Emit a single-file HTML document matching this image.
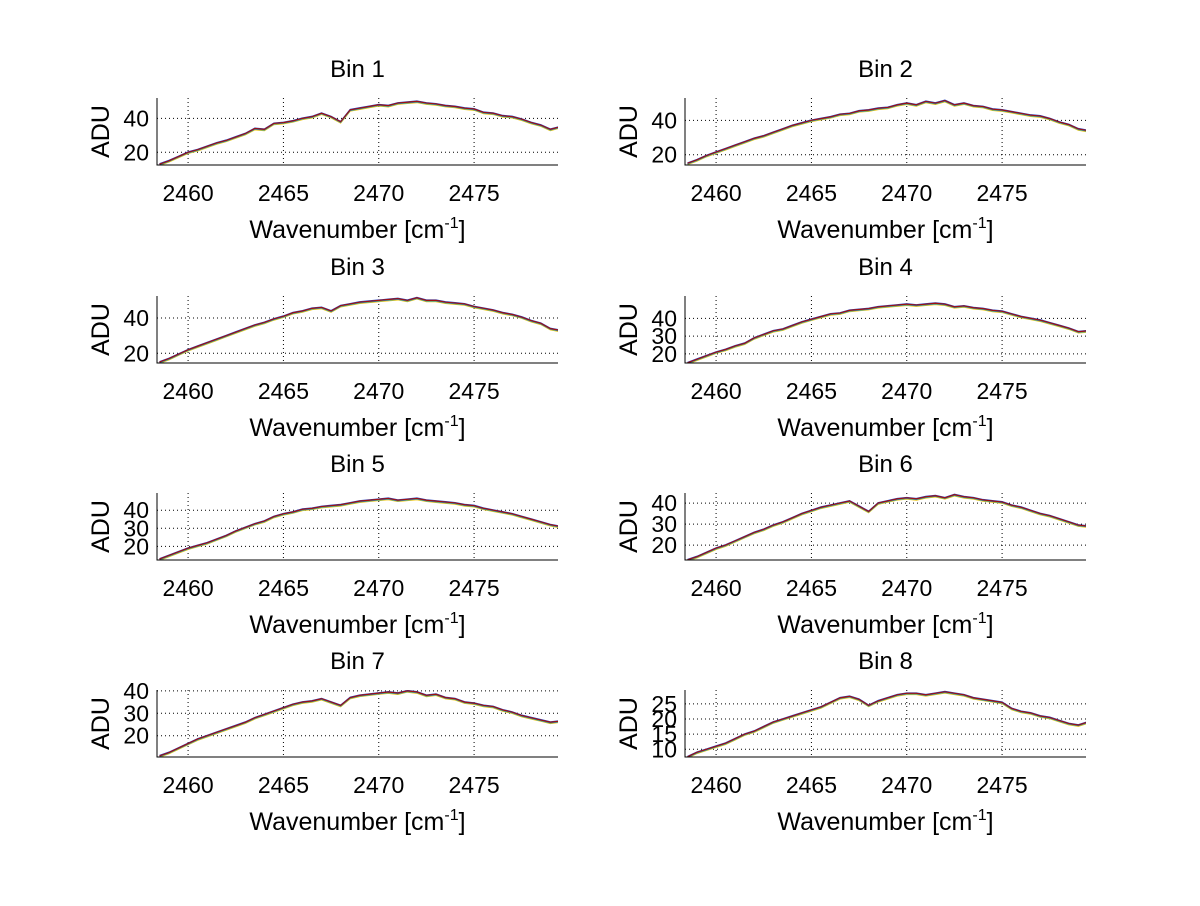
<!DOCTYPE html>
<html><head><meta charset="utf-8"><style>
html,body{margin:0;padding:0;background:#fff;}
svg text{font-family:"Liberation Sans",Arial,sans-serif;fill:#000;}
</style></head><body>
<svg id="fig" width="1200" height="901" viewBox="0 0 1200 901" xmlns="http://www.w3.org/2000/svg"></svg>
<script>
const xStart = 2458.5, xStep = 0.5;
const xTicks = [2460, 2465, 2470, 2475];
const binNames = ["Bin 1","Bin 2","Bin 3","Bin 4","Bin 5","Bin 6","Bin 7","Bin 8"];
const yLims = [[12.5,52],[14,53],[14.5,52.5],[14.9,52.6],[12.5,49.5],[12.9,44.8],[10.5,40.4],[7.45,29.6]];
const yTicks = [[20,40],[20,40],[20,40],[20,30,40],[20,30,40],[20,30,40],[20,30,40],[10,15,20,25]];
const bin1 = [13,15,17.5,20,21.5,23.5,25.5,27,29,31,34,33.5,37,37.5,38.5,40,41,43,41,38,45,46,47,48,47.5,49,49.5,50,49,48.5,47.5,47,46,45.5,43.5,43,41.5,41,39.5,37.5,36,33.5,35];
const bin2 = [15,17,19.5,21.5,23.5,25.5,27.5,29.5,31,33,35,37,38.5,40,41,42,43.5,44,45.5,46,47,47.5,49,50,49,51,50,51.5,49,50,48.5,48,46.5,46,45,44,43,42.5,41,39,37.5,35,34];
const bin3 = [15,17,19.5,22,24,26,28,30,32,34,36,37.5,39.5,41,43,44,45.5,46,44,47,48,49,49.5,50,50.5,51,50,51.5,50,50,49,48.5,48,46.5,45.5,44.5,43,42,40.5,38.5,37,34,33];
const bin4 = [15,17,19,21,22.5,24.5,26,29,31,33,34,36,38,39.5,41,42.5,43,44.5,45,45.5,46.5,47,47.5,48,47.5,48,48.5,48,46.5,47,46,45.5,44.5,44,42.5,41,40,39,37.5,36,34.5,32.5,33];
const bin5 = [13,15,17,19,20.5,22,24,26,28.5,30.5,32.5,34,36.5,38,39,40.5,41,42,42.5,43,44,45,45.5,46,46.5,45.5,46,46.5,45.5,45,44.5,44,43,42.5,41,40,39,38,36.5,35,33.5,32,31];
const bin6 = [13,14.5,16.5,18.5,20,22,24,26,27.5,29.5,31,33,35,36.5,38,39,40,41,38.5,36,40,41,42,42.5,42,43,43.5,42.5,44,43,42.5,41.5,41,40.5,39,38,36.5,35,34,32.5,31,29.5,29];
const bin7 = [11,12.5,14.5,16.5,18.5,20,21.5,23,24.5,26,28,29.5,31,32.5,34,35,35.5,36.5,35,33.5,37,38,38.5,39,39.5,39,40,39.5,38,38.5,37,36.5,35,34.5,33.5,33,31.5,30.5,29,28,27,26,26.5];
const bin8 = [7.5,9,10,11,12,13.5,15,16,17.5,19,20,21,22,23,24,25.5,27,27.5,26.5,24.5,26,27,28,28.5,28.5,28,28.5,29,28.5,28,27,26.5,26,25.5,23.5,22.5,22,21,20.5,19.5,18.5,18,19];
const binData = [bin1,bin2,bin3,bin4,bin5,bin6,bin7,bin8];

const NS = "http://www.w3.org/2000/svg";
const svg = document.getElementById("fig");
function mk(tag, attrs, parent){const e=document.createElementNS(NS,tag);for(const k in attrs)e.setAttribute(k,attrs[k]);(parent||svg).appendChild(e);return e;}
const colX = [157, 685], W = 401, rowTop = [98, 296, 493, 690], H = 67;
const xMin = 2458.37, xMax = 2479.4;
const defs = mk("defs",{});
binData.forEach((vals, i) => {
  const L = colX[i%2], T = rowTop[Math.floor(i/2)], B = T+H, R = L+W;
  const [y0,y1] = yLims[i];
  const sx = v => L + (v - xMin)/(xMax - xMin)*W;
  const sy = v => B - (v - y0)/(y1 - y0)*H;
  const g = mk("g",{});
  
  
  const cp = mk("clipPath",{id:"cp"+i}, defs);
  mk("rect",{x:L,y:T,width:W,height:H},cp);
  xTicks.forEach(t => {
    const l = mk("line",{x1:sx(t),x2:sx(t),y1:T,y2:B,stroke:"#000","stroke-dasharray":"1,3","stroke-width":1},g);
    
    
    const tl = mk("text",{x:sx(t),y:B+36,"font-size":23,"text-anchor":"middle"},g);
    tl.textContent = t;
    
    
  });
  yTicks[i].forEach(t => {
    const l = mk("line",{x1:L,x2:R,y1:sy(t),y2:sy(t),stroke:"#000","stroke-dasharray":"1,3","stroke-width":1},g);
    
    
    const tl = mk("text",{x:L-8,y:sy(t)+8,"font-size":23,"text-anchor":"end"},g);
    tl.textContent = t;
    
    
  });
  const pts = vals.map((v,k)=>[sx(xStart+k*xStep), sy(v)]);
  [["#f5c400",1.2],["#20a0c0",0.6],["#2040c0",-0.4],["#a01010",0]].forEach(([c,off])=>{
    const p = mk("polyline",{points:pts.map(q=>q[0]+","+(q[1]+off)).join(" "),fill:"none",stroke:c,"stroke-width":1.2,"clip-path":"url(#cp"+i+")"},g);
    
    
  });
  const ax = mk("path",{d:`M${L},${T} V${B} H${R}`,fill:"none",stroke:"#000","stroke-width":1},g);
  
  
  const tt = mk("text",{x:L+W/2,y:T-21,"font-size":24,"text-anchor":"middle"},g);
  tt.textContent = binNames[i];
  
  
  const xl = mk("text",{x:L+W/2,y:B+73,"font-size":25,"text-anchor":"middle"},g);
  xl.innerHTML = 'Wavenumber [cm<tspan dy="-10" font-size="16">-1</tspan><tspan dy="10">]</tspan>';
  
  
  const yl = mk("text",{x:0,y:0,"font-size":25,"text-anchor":"middle",transform:`translate(${L-48},${T+H/2}) rotate(-90)`},g);
  yl.textContent = "ADU";
  
  
});
</script>
</body></html>
